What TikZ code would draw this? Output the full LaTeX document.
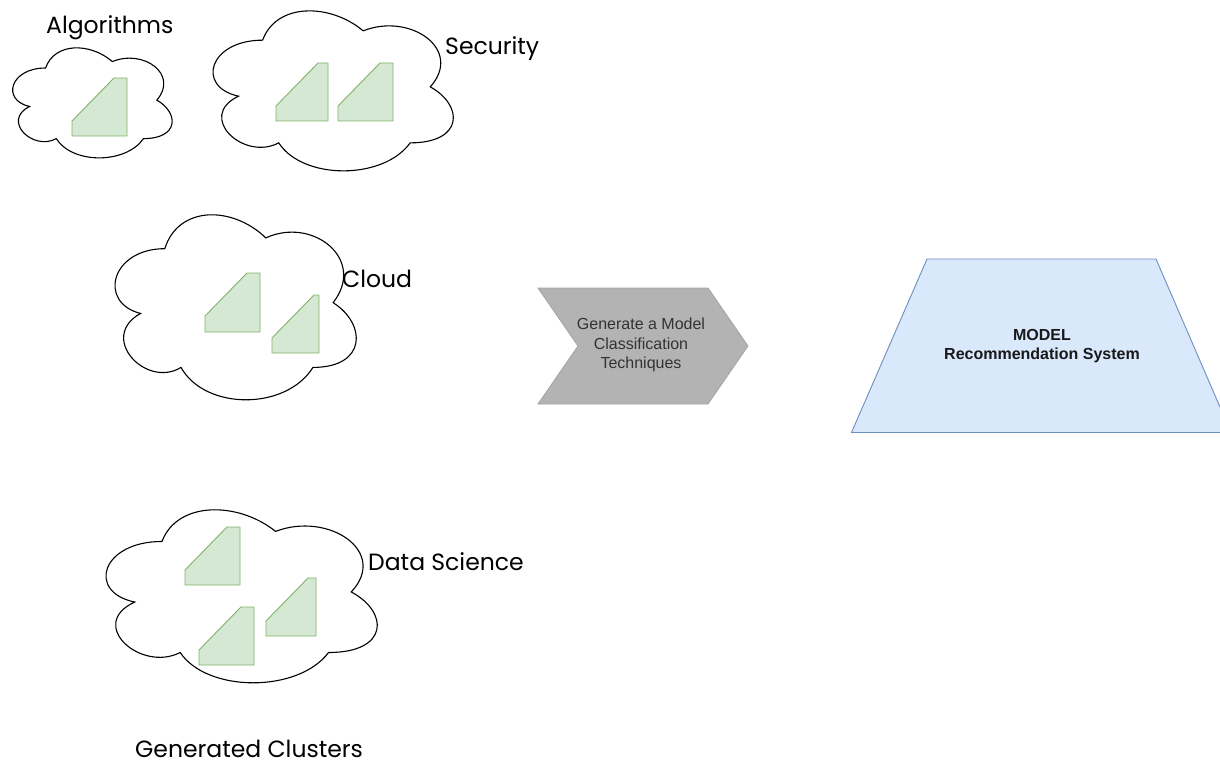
\documentclass[tikz,border=0pt]{standalone}
\usepackage{fontspec}
\setmainfont{Liberation Sans}
\newfontfamily\handfont{Poppins}
\definecolor{slabfill}{HTML}{D5E8D4}
\definecolor{slabline}{HTML}{82B366}
\definecolor{modelfill}{HTML}{DAE8FC}
\definecolor{modelline}{HTML}{6C8EBF}
\definecolor{chevfill}{HTML}{B3B3B3}
\definecolor{chevline}{HTML}{A3A3A3}
\definecolor{chevtext}{HTML}{333333}

\tikzset{
  cloudline/.style={draw=black, fill=white, line width=1.1pt},
  slabstyle/.style={draw=slabline, fill=slabfill, line width=0.9pt, line join=miter},
  tag/.style={font=\handfont\fontsize{23.5}{27}\selectfont, inner sep=0pt,
    text depth=0pt, anchor=base west},
  boxtext/.style={align=center, inner sep=0pt, font=\fontsize{16}{19.5}\selectfont},
  cloudpic/.pic={
    \path[cloudline] (0.25,0.25)
      .. controls (0.05,0.25) and (0,0.5) .. (0.16,0.55)
      .. controls (0,0.66) and (0.18,0.9) .. (0.31,0.8)
      .. controls (0.4,1) and (0.7,1) .. (0.8,0.8)
      .. controls (1,0.8) and (1,0.6) .. (0.875,0.5)
      .. controls (1,0.3) and (0.8,0.1) .. (0.625,0.2)
      .. controls (0.5,0.05) and (0.3,0.05) .. (0.25,0.25) -- cycle;
  }
}

% card-like slab: left, top, right, bottom; fixed 45-degree cut at top left
\newcommand\cardslab[4]{%
  \path[slabstyle] (#1,{#2+43}) -- ({#1+42},#2) -- (#3,#2) -- (#3,#4) -- (#1,#4) -- cycle;}

\begin{document}
\begin{tikzpicture}[x=1pt, y=-1pt]
\useasboundingbox (0,0) rectangle (1220,762);

% clouds (origin = top left of the cloud frame)
\pic[xscale=178, yscale=128.4] at (1.1,35.9) {cloudpic};
\pic[xscale=268.2, yscale=186.7] at (195.6,-6.5) {cloudpic};
\pic[xscale=269.3, yscale=215.9] at (97.5,194.7) {cloudpic};
\pic[xscale=302.8, yscale=201.9] at (86.3,491) {cloudpic};

% slabs inside the clouds
\cardslab{72}{78}{127}{136}
\cardslab{276}{63}{328}{121}
\cardslab{338}{63}{393}{121}
\cardslab{205}{273}{260}{332}
\cardslab{272}{295}{319}{353}
\cardslab{185}{527}{240}{585}
\cardslab{266}{578}{316}{636}
\cardslab{199}{607}{254}{665}

% cluster labels
\node[tag] (algo) at (46,34) {Algorithms};
\node[tag] (sec) at (445,55) {Security};
\node[tag] (cld) at (342,287) {Cloud};
\node[tag] (ds) at (368,570) {Data Science};
\node[tag] (gc) at (135,757) {Generated Clusters};

% chevron step
\coordinate (chTL) at (538,288);
\coordinate (chTR) at (708,288);
\coordinate (chTip) at (748,346);
\coordinate (chBR) at (708,404);
\coordinate (chBL) at (538,404);
\coordinate (chNotch) at (578,346);
\path[draw=chevline, fill=chevfill, line width=0.8pt]
  (chTL) -- (chTR) -- (chTip) -- (chBR) -- (chBL) -- (chNotch) -- cycle;
\node[boxtext, text=chevtext] (gen) at (641,345)
  {Generate a Model\\Classification\\Techniques};

% model trapezoid
\coordinate (mTL) at (927,259);
\coordinate (mTR) at (1156,259);
\coordinate (mBR) at (1231,432.5);
\coordinate (mBL) at (851.5,432.5);
\path[draw=modelline, fill=modelfill, line width=0.9pt]
  (mTL) -- (mTR) -- (mBR) -- (mBL) -- cycle;
\node[boxtext, font=\fontsize{16}{19.5}\selectfont\bfseries, text=black!90] (model) at (1042,346)
  {MODEL\\Recommendation System};
\end{tikzpicture}
\end{document}
